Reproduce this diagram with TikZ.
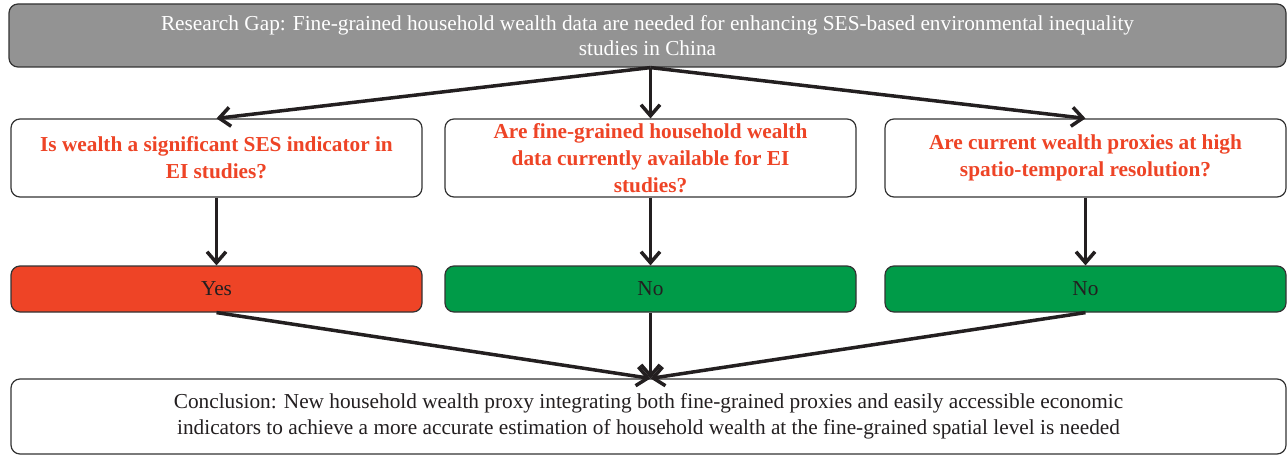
\documentclass[tikz,border=0pt]{standalone}
\usepackage{fontspec}
\setmainfont{Liberation Serif}
\usetikzlibrary{arrows.meta}
\definecolor{gapgray}{HTML}{939393}
\definecolor{qred}{HTML}{EE4426}
\definecolor{yesred}{HTML}{EE4426}
\definecolor{nogreen}{HTML}{009B48}
\definecolor{edgec}{HTML}{333333}
\definecolor{arrowc}{HTML}{231F20}
\begin{document}
\begin{tikzpicture}[x=1pt,y=-1pt,
  box/.style={draw=edgec, line width=1.2pt, rounded corners=9pt, inner sep=0pt, align=center},
  gapbox/.style={box, fill=gapgray, text=white, font=\fontsize{21.3}{25}\selectfont, minimum width=1277pt, minimum height=63pt},
  qbox/.style={box, fill=white, text=qred, font=\fontsize{21.3}{27}\selectfont\bfseries, minimum height=78pt},
  ansbox/.style={box, text=arrowc, font=\fontsize{21.3}{25}\selectfont, minimum height=46pt},
  conbox/.style={box, fill=white, text=arrowc, font=\fontsize{21.3}{26}\selectfont, minimum width=1275pt, minimum height=75pt},
  arr/.style={draw=arrowc, line width=3.5pt, -{Straight Barb[length=11pt,width=19pt]}}
]
\useasboundingbox (0,0) rectangle (1287,457);
\node[gapbox] (gap) at (647.5,35.5) {Research Gap: Fine-grained household wealth data are needed for enhancing SES-based environmental inequality\\studies in China};
\node[qbox, minimum width=411pt] (q1) at (216.5,158) {Is wealth a significant SES indicator in\\EI studies?};
\node[qbox, minimum width=411pt] (q2) at (650.5,158) {Are fine-grained household wealth\\data currently available for EI\\studies?};
\node[qbox, minimum width=401pt] (q3) at (1085.5,158) {Are current wealth proxies at high\\spatio-temporal resolution?};
\node[ansbox, fill=yesred, minimum width=411pt] (a1) at (216.5,289) {Yes};
\node[ansbox, fill=nogreen, minimum width=411pt] (a2) at (650.5,289) {No};
\node[ansbox, fill=nogreen, minimum width=401pt] (a3) at (1085.5,289) {No};
\node[conbox] (con) at (648.5,416.5) {Conclusion: New household wealth proxy integrating both fine-grained proxies and easily accessible economic\\indicators to achieve a more accurate estimation of household wealth at the fine-grained spatial level is needed};
\coordinate (fan) at (gap.south -| q2.north);
\coordinate (meet) at (con.north -| a2.south);
\draw[arr] (fan) -- (q1.north);
\draw[arr] (fan) -- (q2.north);
\draw[arr] (fan) -- (q3.north);
\draw[arr] (q1.south) -- (a1.north);
\draw[arr] (q2.south) -- (a2.north);
\draw[arr] (q3.south) -- (a3.north);
\draw[arr] (a1.south) -- (meet);
\draw[arr] (a2.south) -- (meet);
\draw[arr] (a3.south) -- (meet);
\end{tikzpicture}
\end{document}
